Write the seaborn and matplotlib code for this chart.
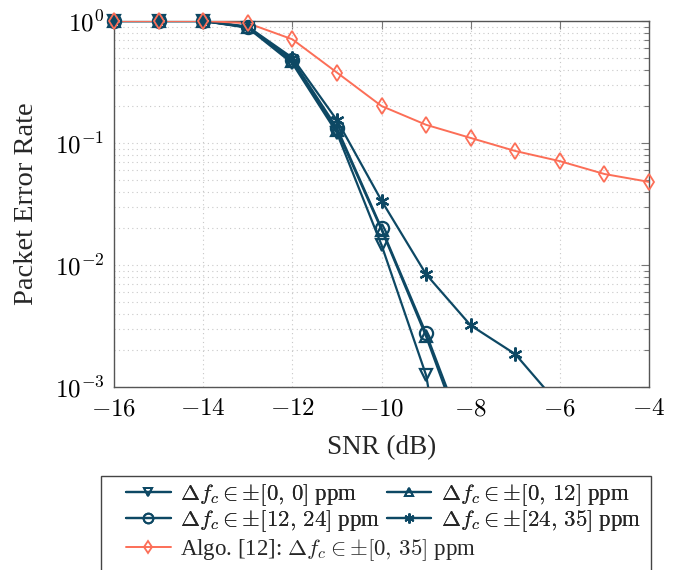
import numpy as np
import pandas as pd
import matplotlib
matplotlib.use("Agg")
import matplotlib.pyplot as plt
import seaborn as sns
from matplotlib.lines import Line2D
from matplotlib.patches import Rectangle
from matplotlib.ticker import LogLocator, FixedLocator, NullLocator, FuncFormatter

# ---- data ----
snr_blue = [-16, -15, -14, -13, -12, -11, -10, -9, -8]
per_0_0 = [1.0, 1.0, 1.0, 0.88, 0.45, 0.121, 0.0146, 0.00125, 0.00001]
per_0_12 = [1.0, 1.0, 1.0, 0.89, 0.47, 0.128, 0.0195, 0.0026, 0.00026]
per_12_24 = [1.0, 1.0, 1.0, 0.89, 0.48, 0.133, 0.0200, 0.00275, 0.0003]
snr_star = [-16, -15, -14, -13, -12, -11, -10, -9, -8, -7, -6]
per_24_35 = [1.0, 1.0, 1.0, 0.90, 0.50, 0.154, 0.0337, 0.0084, 0.0032, 0.00186, 0.0007]
snr_algo = [-16, -15, -14, -13, -12, -11, -10, -9, -8, -7, -6, -5, -4]
per_algo = [1.0, 1.0, 1.0, 0.96, 0.708, 0.378, 0.201, 0.141, 0.110, 0.086, 0.071, 0.0557, 0.048]

labels = [r"$\Delta f_c \in {\pm}[0,\,0]$ ppm",
          r"$\Delta f_c \in {\pm}[0,\,12]$ ppm",
          r"$\Delta f_c \in {\pm}[12,\,24]$ ppm",
          r"$\Delta f_c \in {\pm}[24,\,35]$ ppm",
          r"Algo. [12]: $\Delta f_c \in {\pm}[0,\,35]$ ppm"]
x_ticks = [-16, -14, -12, -10, -8, -6, -4]

BLUE = "#0d4864"
ORANGE = "#fc6e57"
ASTER = (6, 2, 0)

sns.set_theme(style="white")
plt.rcParams.update({
    "font.family": "serif",
    "font.serif": ["Liberation Serif"],
    "mathtext.fontset": "cm",
    "axes.unicode_minus": True,
})

fig = plt.figure(figsize=(6.78, 5.70), dpi=100)
ax = fig.add_axes([114 / 678, (570 - 387) / 570, (649 - 114) / 678, (387 - 21) / 570])

series = [
    (snr_blue, per_0_0, BLUE, "v", 9, 1.6),
    (snr_blue, per_0_12, BLUE, "^", 9, 1.6),
    (snr_blue, per_12_24, BLUE, "o", 9.5, 1.6),
    (snr_star, per_24_35, BLUE, ASTER, 10, 1.6),
    (snr_algo, per_algo, ORANGE, "d", 8, 1.4),
]

for xs, ys, col, mk, ms, lw in series:
    df = pd.DataFrame({"snr": xs, "per": ys})
    sns.lineplot(data=df, x="snr", y="per", ax=ax, color=col, linewidth=lw,
                 marker=None, zorder=3, legend=False)
    inr = df[df["per"] >= 1e-3]
    sns.lineplot(data=inr, x="snr", y="per", ax=ax, color=col, linestyle="none",
                 marker=mk, markersize=ms, markerfacecolor="none",
                 markeredgecolor=col, markeredgewidth=1.6 if col == BLUE else 1.3,
                 clip_on=False, zorder=4, legend=False)

ax.set_yscale("log")
ax.set_xlim(-16, -4)
ax.set_ylim(1e-3, 1)
ax.xaxis.set_major_locator(FixedLocator(x_ticks))
ax.xaxis.set_minor_locator(NullLocator())
ax.xaxis.set_major_formatter(FuncFormatter(lambda v, p: r"$%d$" % round(v)))
ax.yaxis.set_major_locator(LogLocator(base=10, numticks=10))
ax.yaxis.set_minor_locator(LogLocator(base=10, subs=np.arange(2, 10), numticks=20))
ax.yaxis.set_major_formatter(FuncFormatter(lambda v, p: r"$10^{%d}$" % round(np.log10(v))))

ax.grid(True, which="major", axis="both", color="#c8c8c8", linestyle=(0, (1, 3)), linewidth=0.8)
ax.grid(True, which="minor", axis="y", color="#c8c8c8", linestyle=(0, (1, 3)), linewidth=0.8)
ax.set_axisbelow(True)

for s in ax.spines.values():
    s.set_color("#555555")
    s.set_linewidth(1.0)
ax.tick_params(which="both", direction="in", top=True, right=True, color="#777777",
               labelsize=18, labelcolor="black")
ax.tick_params(axis="x", pad=8)
ax.tick_params(axis="y", pad=7)
ax.tick_params(which="major", length=6, width=0.8)
ax.tick_params(which="minor", length=3.5, width=0.8)

ax.set_xlabel("SNR (dB)", fontsize=19.5, labelpad=11)
ax.set_ylabel("Packet Error Rate", fontsize=20.5, labelpad=11)

def h(col, mk, ms):
    return Line2D([0], [0], color=col, lw=1.6, marker=mk, markersize=ms,
                  markerfacecolor="none", markeredgecolor=col, markeredgewidth=1.4)

# column-major fill: col1 = [0,0],[12,24]; col2 = [0,12],[24,35]
handles = [h(BLUE, "v", 6), h(BLUE, "o", 7), h(BLUE, "^", 6), h(BLUE, ASTER, 7)]
leg_labels = [labels[0], labels[2], labels[1], labels[3]]
leg1 = fig.legend(handles, leg_labels, ncol=2, loc="upper left",
                  bbox_to_anchor=(126 / 678, 1 - 482 / 570), frameon=False,
                  fontsize=16.5, handlelength=1.95, handletextpad=0.4, columnspacing=0.3,
                  labelspacing=0.02, borderpad=0, borderaxespad=0)
leg2 = fig.legend([Line2D([0], [0], color=ORANGE, lw=1.4, marker="d", markersize=6.5,
                          markerfacecolor="none", markeredgecolor=ORANGE, markeredgewidth=1.3)],
                  labels[4:], loc="upper left",
                  bbox_to_anchor=(126 / 678, 1 - 537 / 570), frameon=False,
                  fontsize=16.5, handlelength=1.95, handletextpad=0.4,
                  borderpad=0, borderaxespad=0)
fig.add_artist(leg1)
rect = Rectangle((101 / 678, (570 - 590) / 570), 550 / 678, (590 - 476) / 570,
                 transform=fig.transFigure, fill=False, edgecolor="#444444",
                 linewidth=1.0, clip_on=False)
fig.add_artist(rect)

fig.savefig("out.png", dpi=100)
